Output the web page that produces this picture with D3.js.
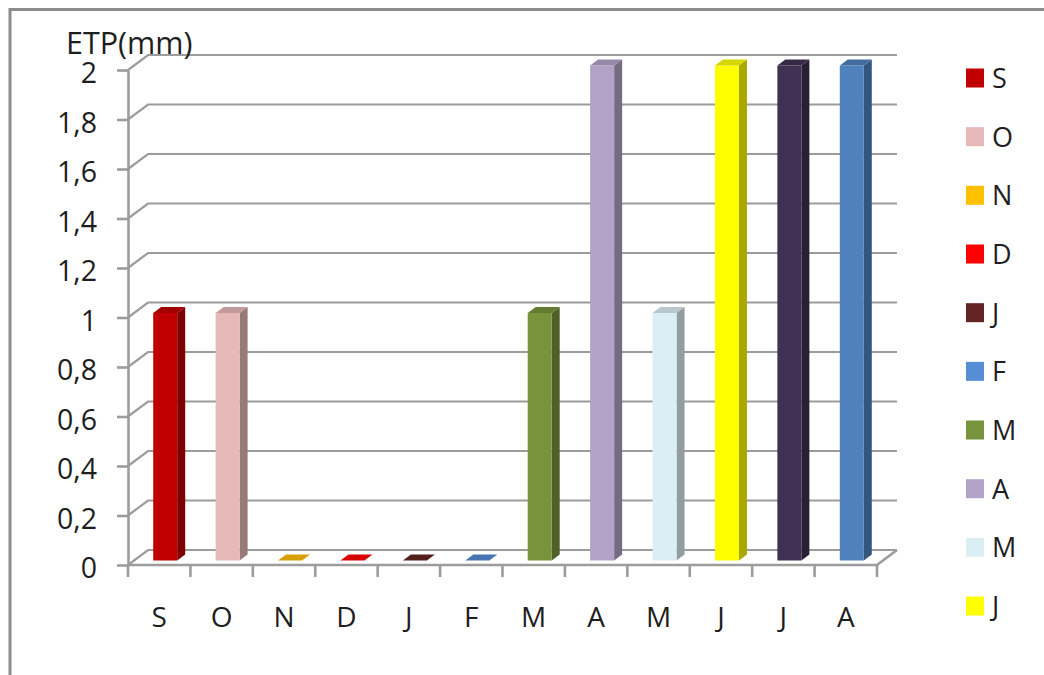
<!DOCTYPE html>
<html>
<head>
<meta charset="utf-8">
<script src="https://cdn.jsdelivr.net/npm/d3@7"></script>
<style>
  html, body { margin: 0; padding: 0; background: #fff; }
  svg { display: block; }
  text { font-family: "Open Sans", Lato, sans-serif; fill: #1e1e1e; }
</style>
</head>
<body>
<svg id="chart" width="1044" height="675"></svg>
<script>
// Monthly ETP, September to August
const months = ["S", "O", "N", "D", "J", "F", "M", "A", "M", "J", "J", "A"];
const etp = [1, 1, 0, 0, 0, 0, 1, 2, 1, 2, 2, 2];
const colors = ["#C00000", "#E6B9B8", "#FFC000", "#FF0000", "#632523", "#558ED5",
                "#77933C", "#B3A2C7", "#DBEEF4", "#FFFF00", "#403152", "#4F81BD"];
const yTicks = [0, 0.2, 0.4, 0.6, 0.8, 1, 1.2, 1.4, 1.6, 1.8, 2];
const yTitle = "ETP(mm)";

(function () {
const svg = d3.select("#chart");
const W = 1044, H = 675;

// plot frame (front plane) and depth of the 3D box
const pLeft = 128, pRight = 877, pBottom = 565, pTop = 70;
const depth = { dx: 20, dy: -15 };

const x = d3.scaleBand().domain(d3.range(months.length)).range([pLeft, pRight]).padding(0);
const y = d3.scaleLinear().domain([0, 2]).range([pBottom, pTop]);

const fr = d3.formatLocale({ decimal: ",", thousands: ".", grouping: [3], currency: ["", ""] });
const fmt = fr.format(".1~f");

// outer border (top and left edges)
svg.append("path")
  .attr("d", `M${W},9.5 H10 V${H}`)
  .attr("fill", "none").attr("stroke", "#8c8c8c").attr("stroke-width", 3);

const grid = "#9c9c9c";

// back wall gridlines with their diagonal links to the axis
const g = svg.append("g");
yTicks.forEach(v => {
  const yy = y(v);
  g.append("path")
    .attr("d", `M${pLeft},${yy} L${pLeft + depth.dx},${yy + depth.dy} H${pRight + depth.dx}`)
    .attr("fill", "none").attr("stroke", grid).attr("stroke-width", 2.2);
});
// floor: front edge and right side
g.append("path")
  .attr("d", `M${pLeft},${pBottom} H${pRight} L${pRight + depth.dx},${pBottom + depth.dy}`)
  .attr("fill", "none").attr("stroke", grid).attr("stroke-width", 2.6);

// category ticks at band boundaries
const bounds = months.map((_, i) => x(i)).concat([pRight]);
g.selectAll("line.xt").data(bounds).join("line")
  .attr("class", "xt")
  .attr("x1", d => d).attr("x2", d => d)
  .attr("y1", pBottom).attr("y2", pBottom + 12)
  .attr("stroke", grid).attr("stroke-width", 2.6);

// value axis
const yAxis = svg.append("g")
  .attr("transform", `translate(${pLeft},0)`)
  .call(d3.axisLeft(y).tickValues(yTicks).tickFormat(fmt).tickSize(11).tickSizeOuter(0).tickPadding(20));
yAxis.select(".domain").attr("stroke", grid).attr("stroke-width", 2.6);
yAxis.selectAll(".tick line").attr("stroke", grid).attr("stroke-width", 2.6);
yAxis.selectAll(".tick text")
  .attr("dy", "0.44em")
  .style("font-size", "28.5px").style("font-family", "'Open Sans', sans-serif").attr("fill", "#1e1e1e");

// category labels
const xAxis = svg.append("g")
  .attr("transform", `translate(0,${pBottom})`)
  .call(d3.axisBottom(x).tickFormat(i => months[i]).tickSize(0).tickPadding(0));
xAxis.select(".domain").remove();
xAxis.selectAll(".tick text")
  .attr("y", 62).attr("dy", 0)
  .style("font-size", "28px").style("font-family", "'Open Sans', sans-serif").attr("fill", "#1e1e1e");

// axis title
svg.append("text")
  .attr("x", 66).attr("y", 54)
  .style("font-size", "30.5px")
  .text(yTitle);

// 3D bars
const barW = 24;
const off = { dx: 6, dy: -4.5 };   // front face sits a little into the depth
const side = { dx: 8, dy: -6 };
const shade = (c, k) => { const h = d3.rgb(c); return d3.rgb(h.r * k, h.g * k, h.b * k).formatHex(); };

const bars = svg.append("g").selectAll("g").data(etp).join("g");
bars.each(function (v, i) {
  const gg = d3.select(this);
  const cx = x(i) + x.bandwidth() / 2 + off.dx;
  const x0 = cx - barW / 2, x1 = cx + barW / 2;
  const yb = y(0) + off.dy, yt = y(v) + off.dy;
  const c = colors[i];
  // right side
  gg.append("path")
    .attr("d", `M${x1},${yt} L${x1 + side.dx},${yt + side.dy} L${x1 + side.dx},${yb + side.dy} L${x1},${yb} Z`)
    .attr("fill", shade(c, 0.66));
  // front
  if (yb - yt > 0) {
    gg.append("rect")
      .attr("x", x0).attr("y", yt).attr("width", barW).attr("height", yb - yt)
      .attr("fill", c);
  }
  // top
  gg.append("path")
    .attr("d", `M${x0},${yt} L${x0 + side.dx},${yt + side.dy} L${x1 + side.dx},${yt + side.dy} L${x1},${yt} Z`)
    .attr("fill", shade(c, 0.84));
});

// legend (room for ten entries)
const legendItems = months.slice(0, 10).map((m, i) => ({ m, c: colors[i] }));
const lg = svg.append("g").selectAll("g").data(legendItems).join("g")
  .attr("transform", (d, i) => `translate(966,${78 + i * 58.67})`);
lg.append("rect")
  .attr("x", 0).attr("y", -9.5).attr("width", 18).attr("height", 19)
  .attr("fill", d => d.c);
lg.append("text")
  .attr("x", 26).attr("y", 10)
  .style("font-size", "27px")
  .text(d => d.m);
})();
</script>
</body>
</html>
